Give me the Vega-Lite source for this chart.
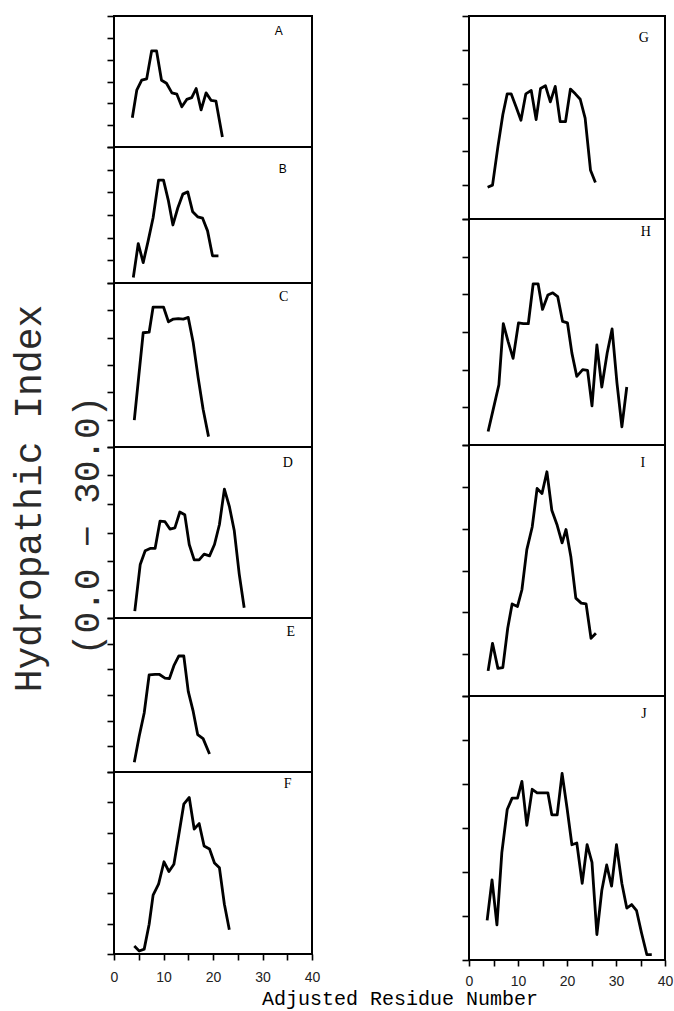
{
  "$schema": "https://vega.github.io/schema/vega-lite/v6.json",
  "background": "white",
  "padding": {"left": 8, "top": 14, "right": 3, "bottom": 2},
  "title": {"text": "Adjusted Residue Number", "orient": "bottom", "anchor": "start", "frame": "bounds", "dx": 253, "dy": -4, "offset": 4, "font": "Liberation Mono", "fontSize": 20, "fontWeight": "normal", "color": "black"},
  "datasets": {
    "labels": [{"panel": "A"}, {"panel": "B"}, {"panel": "C"}, {"panel": "D"}, {"panel": "E"}, {"panel": "F"}, {"panel": "G"}, {"panel": "H"}, {"panel": "I"}, {"panel": "J"}],
    "A": [{"x": 3.7, "y": 6.7}, {"x": 4.6, "y": 13.0}, {"x": 5.6, "y": 15.3}, {"x": 6.6, "y": 15.6}, {"x": 7.6, "y": 22.0}, {"x": 8.6, "y": 22.0}, {"x": 9.6, "y": 15.3}, {"x": 10.6, "y": 14.6}, {"x": 11.7, "y": 12.4}, {"x": 12.7, "y": 12.1}, {"x": 13.7, "y": 9.2}, {"x": 14.7, "y": 10.9}, {"x": 15.7, "y": 11.3}, {"x": 16.6, "y": 13.4}, {"x": 17.6, "y": 8.5}, {"x": 18.6, "y": 12.4}, {"x": 19.6, "y": 10.7}, {"x": 20.6, "y": 10.5}, {"x": 21.9, "y": 2.3}],
    "B": [{"x": 3.9, "y": 1.2}, {"x": 4.9, "y": 8.7}, {"x": 5.9, "y": 4.5}, {"x": 6.9, "y": 9.3}, {"x": 7.9, "y": 14.4}, {"x": 9.0, "y": 22.7}, {"x": 10.0, "y": 22.7}, {"x": 11.0, "y": 18.1}, {"x": 11.9, "y": 12.8}, {"x": 12.9, "y": 16.6}, {"x": 13.9, "y": 19.6}, {"x": 14.9, "y": 20.1}, {"x": 15.9, "y": 15.7}, {"x": 16.9, "y": 14.6}, {"x": 17.9, "y": 14.3}, {"x": 18.9, "y": 11.5}, {"x": 19.9, "y": 6.0}, {"x": 21.1, "y": 6.0}],
    "C": [{"x": 4.1, "y": 4.9}, {"x": 5.0, "y": 12.9}, {"x": 5.9, "y": 20.9}, {"x": 7.1, "y": 21.0}, {"x": 7.9, "y": 25.6}, {"x": 9.0, "y": 25.6}, {"x": 10.0, "y": 25.6}, {"x": 11.0, "y": 22.9}, {"x": 12.0, "y": 23.4}, {"x": 13.0, "y": 23.5}, {"x": 14.0, "y": 23.4}, {"x": 15.0, "y": 23.7}, {"x": 16.0, "y": 19.1}, {"x": 17.0, "y": 12.7}, {"x": 18.0, "y": 6.9}, {"x": 19.1, "y": 1.9}],
    "D": [{"x": 4.2, "y": 1.2}, {"x": 5.3, "y": 9.4}, {"x": 6.3, "y": 11.8}, {"x": 7.3, "y": 12.2}, {"x": 8.3, "y": 12.2}, {"x": 9.3, "y": 17.0}, {"x": 10.3, "y": 16.9}, {"x": 11.3, "y": 15.6}, {"x": 12.3, "y": 15.8}, {"x": 13.3, "y": 18.6}, {"x": 14.3, "y": 18.1}, {"x": 15.2, "y": 12.9}, {"x": 16.2, "y": 10.2}, {"x": 17.2, "y": 10.2}, {"x": 18.2, "y": 11.2}, {"x": 19.3, "y": 10.9}, {"x": 20.3, "y": 12.9}, {"x": 21.3, "y": 16.4}, {"x": 22.3, "y": 22.6}, {"x": 23.3, "y": 19.6}, {"x": 24.3, "y": 15.3}, {"x": 25.3, "y": 7.7}, {"x": 26.3, "y": 1.8}],
    "E": [{"x": 4.1, "y": 1.9}, {"x": 5.1, "y": 7.0}, {"x": 6.1, "y": 11.5}, {"x": 7.1, "y": 18.9}, {"x": 8.3, "y": 19.0}, {"x": 9.2, "y": 19.0}, {"x": 10.3, "y": 18.3}, {"x": 11.2, "y": 18.2}, {"x": 12.1, "y": 20.7}, {"x": 13.1, "y": 22.6}, {"x": 14.1, "y": 22.6}, {"x": 15.0, "y": 15.7}, {"x": 16.0, "y": 11.8}, {"x": 16.9, "y": 7.3}, {"x": 18.0, "y": 6.5}, {"x": 19.3, "y": 3.5}],
    "F": [{"x": 4.1, "y": 1.3}, {"x": 5.1, "y": 0.5}, {"x": 6.1, "y": 0.8}, {"x": 7.1, "y": 4.9}, {"x": 7.9, "y": 9.7}, {"x": 9.0, "y": 11.5}, {"x": 10.1, "y": 15.2}, {"x": 11.1, "y": 13.6}, {"x": 12.1, "y": 14.8}, {"x": 13.1, "y": 19.7}, {"x": 14.1, "y": 24.7}, {"x": 15.2, "y": 25.8}, {"x": 16.2, "y": 20.6}, {"x": 17.2, "y": 21.5}, {"x": 18.2, "y": 17.8}, {"x": 19.3, "y": 17.3}, {"x": 20.3, "y": 15.0}, {"x": 21.3, "y": 14.2}, {"x": 22.3, "y": 8.2}, {"x": 23.3, "y": 4.0}],
    "G": [{"x": 3.8, "y": 4.7}, {"x": 4.8, "y": 5.0}, {"x": 5.9, "y": 10.7}, {"x": 6.9, "y": 15.4}, {"x": 7.8, "y": 18.5}, {"x": 8.6, "y": 18.5}, {"x": 9.6, "y": 16.6}, {"x": 10.6, "y": 14.6}, {"x": 11.6, "y": 18.5}, {"x": 12.7, "y": 19.0}, {"x": 13.7, "y": 14.7}, {"x": 14.6, "y": 19.3}, {"x": 15.6, "y": 19.7}, {"x": 16.6, "y": 17.3}, {"x": 17.6, "y": 19.6}, {"x": 18.6, "y": 14.4}, {"x": 19.7, "y": 14.4}, {"x": 20.7, "y": 19.2}, {"x": 21.7, "y": 18.5}, {"x": 22.7, "y": 17.7}, {"x": 23.7, "y": 14.9}, {"x": 24.8, "y": 7.2}, {"x": 25.8, "y": 5.4}],
    "H": [{"x": 3.9, "y": 1.8}, {"x": 5.0, "y": 4.9}, {"x": 6.1, "y": 8.0}, {"x": 7.0, "y": 16.1}, {"x": 8.0, "y": 13.7}, {"x": 9.0, "y": 11.5}, {"x": 10.1, "y": 16.2}, {"x": 11.1, "y": 16.1}, {"x": 12.1, "y": 16.1}, {"x": 13.1, "y": 21.4}, {"x": 14.1, "y": 21.4}, {"x": 15.0, "y": 18.0}, {"x": 16.1, "y": 19.9}, {"x": 17.1, "y": 20.2}, {"x": 18.1, "y": 19.7}, {"x": 19.1, "y": 16.4}, {"x": 20.1, "y": 16.2}, {"x": 21.0, "y": 12.2}, {"x": 22.0, "y": 9.1}, {"x": 23.2, "y": 10.0}, {"x": 24.2, "y": 9.9}, {"x": 25.1, "y": 5.2}, {"x": 26.1, "y": 13.3}, {"x": 27.1, "y": 7.7}, {"x": 28.2, "y": 12.2}, {"x": 29.2, "y": 15.4}, {"x": 30.2, "y": 8.2}, {"x": 31.2, "y": 2.4}, {"x": 32.2, "y": 7.7}],
    "I": [{"x": 3.9, "y": 3.0}, {"x": 4.8, "y": 6.3}, {"x": 5.9, "y": 3.3}, {"x": 6.9, "y": 3.4}, {"x": 7.9, "y": 8.1}, {"x": 8.8, "y": 11.0}, {"x": 9.9, "y": 10.7}, {"x": 10.8, "y": 12.7}, {"x": 11.8, "y": 17.5}, {"x": 12.9, "y": 20.2}, {"x": 13.9, "y": 24.8}, {"x": 14.9, "y": 24.2}, {"x": 15.9, "y": 26.8}, {"x": 16.9, "y": 22.2}, {"x": 18.0, "y": 20.4}, {"x": 19.0, "y": 18.3}, {"x": 19.8, "y": 19.9}, {"x": 20.8, "y": 16.6}, {"x": 21.8, "y": 11.7}, {"x": 22.9, "y": 11.1}, {"x": 23.9, "y": 11.0}, {"x": 24.9, "y": 6.9}, {"x": 25.9, "y": 7.5}],
    "J": [{"x": 3.7, "y": 4.5}, {"x": 4.7, "y": 9.1}, {"x": 5.7, "y": 4.0}, {"x": 6.7, "y": 12.2}, {"x": 7.8, "y": 17.1}, {"x": 8.8, "y": 18.4}, {"x": 9.9, "y": 18.4}, {"x": 10.8, "y": 20.3}, {"x": 11.8, "y": 15.3}, {"x": 12.9, "y": 19.4}, {"x": 13.9, "y": 19.0}, {"x": 15.0, "y": 19.0}, {"x": 16.1, "y": 19.0}, {"x": 16.9, "y": 16.5}, {"x": 18.0, "y": 16.5}, {"x": 19.0, "y": 21.2}, {"x": 20.0, "y": 17.3}, {"x": 21.0, "y": 13.1}, {"x": 22.0, "y": 13.3}, {"x": 23.1, "y": 8.7}, {"x": 24.1, "y": 13.1}, {"x": 25.1, "y": 11.1}, {"x": 26.1, "y": 2.9}, {"x": 27.1, "y": 7.9}, {"x": 28.1, "y": 10.8}, {"x": 29.1, "y": 8.4}, {"x": 30.1, "y": 13.1}, {"x": 31.2, "y": 8.7}, {"x": 32.2, "y": 5.9}, {"x": 33.2, "y": 6.3}, {"x": 34.2, "y": 5.6}, {"x": 35.2, "y": 3.1}, {"x": 36.3, "y": 0.6}, {"x": 37.3, "y": 0.6}]
  },
  "spacing": 139,
  "hconcat": [
    {
      "spacing": 0,
      "bounds": "flush",
      "vconcat": [
        {
          "width": 198, "height": 131,
          "resolve": {"axis": {"x": "independent", "y": "independent"}},
          "layer": [
            {"data": {"name": "A"}, "mark": {"type": "line", "color": "black", "strokeWidth": 2.8, "strokeJoin": "round"},
             "encoding": {
               "x": {"field": "x", "type": "quantitative", "scale": {"domain": [0, 40], "nice": false}, "axis": null},
               "y": {"field": "y", "type": "quantitative", "scale": {"domain": [0, 30], "nice": false}, "axis": {"values": [0, 5, 10, 15, 20, 25, 30], "labels": false, "title": null}}}},
            {"data": {"name": "labels"}, "transform": [{"filter": "datum.panel === 'A'"}],
             "mark": {"type": "text", "font": "Liberation Sans", "fontSize": 12, "color": "black", "align": "center", "baseline": "middle"},
             "encoding": {"x": {"datum": 33.3, "type": "quantitative", "axis": null}, "y": {"datum": 26.6, "type": "quantitative", "axis": null}, "text": {"field": "panel"}}}
          ]
        },
        {
          "width": 198, "height": 136,
          "resolve": {"axis": {"x": "independent", "y": "independent"}},
          "layer": [
            {"data": {"name": "B"}, "mark": {"type": "line", "color": "black", "strokeWidth": 2.8, "strokeJoin": "round"},
             "encoding": {
               "x": {"field": "x", "type": "quantitative", "scale": {"domain": [0, 40], "nice": false}, "axis": null},
               "y": {"field": "y", "type": "quantitative", "scale": {"domain": [0, 30], "nice": false}, "axis": {"values": [0, 5, 10, 15, 20, 25, 30], "labels": false, "title": null}}}},
            {"data": {"name": "labels"}, "transform": [{"filter": "datum.panel === 'B'"}],
             "mark": {"type": "text", "font": "Liberation Sans", "fontSize": 12, "color": "black", "align": "center", "baseline": "middle"},
             "encoding": {"x": {"datum": 34.1, "type": "quantitative", "axis": null}, "y": {"datum": 25.1, "type": "quantitative", "axis": null}, "text": {"field": "panel"}}}
          ]
        },
        {
          "width": 198, "height": 164,
          "resolve": {"axis": {"x": "independent", "y": "independent"}},
          "layer": [
            {"data": {"name": "C"}, "mark": {"type": "line", "color": "black", "strokeWidth": 2.8, "strokeJoin": "round"},
             "encoding": {
               "x": {"field": "x", "type": "quantitative", "scale": {"domain": [0, 40], "nice": false}, "axis": null},
               "y": {"field": "y", "type": "quantitative", "scale": {"domain": [0, 30], "nice": false}, "axis": {"values": [0, 5, 10, 15, 20, 25, 30], "labels": false, "title": "Hydropathic Index", "titleX": -74, "titleY": 215, "titleAngle": 270, "titleAlign": "center", "titleBaseline": "alphabetic", "titleFont": "Liberation Mono", "titleFontSize": 38, "titleFontWeight": "normal", "titleColor": "#2a2a2a"}}}},
            {"data": {"name": "labels"}, "transform": [{"filter": "datum.panel === 'C'"}],
             "mark": {"type": "text", "font": "Liberation Serif", "fontSize": 14, "color": "black", "align": "center", "baseline": "middle"},
             "encoding": {"x": {"datum": 34.3, "type": "quantitative", "axis": null}, "y": {"datum": 27.4, "type": "quantitative", "axis": null}, "text": {"field": "panel"}}}
          ]
        },
        {
          "width": 198, "height": 171,
          "resolve": {"axis": {"x": "independent", "y": "independent"}},
          "layer": [
            {"data": {"name": "D"}, "mark": {"type": "line", "color": "black", "strokeWidth": 2.8, "strokeJoin": "round"},
             "encoding": {
               "x": {"field": "x", "type": "quantitative", "scale": {"domain": [0, 40], "nice": false}, "axis": null},
               "y": {"field": "y", "type": "quantitative", "scale": {"domain": [0, 30], "nice": false}, "axis": {"values": [0, 5, 10, 15, 20, 25, 30], "labels": false, "title": "(0.0 − 30.0)", "titleX": -16, "titleY": 78, "titleAngle": 270, "titleAlign": "center", "titleBaseline": "alphabetic", "titleFont": "Liberation Mono", "titleFontSize": 36, "titleFontWeight": "normal", "titleColor": "#2a2a2a"}}}},
            {"data": {"name": "labels"}, "transform": [{"filter": "datum.panel === 'D'"}],
             "mark": {"type": "text", "font": "Liberation Serif", "fontSize": 14, "color": "black", "align": "center", "baseline": "middle"},
             "encoding": {"x": {"datum": 35.1, "type": "quantitative", "axis": null}, "y": {"datum": 27.2, "type": "quantitative", "axis": null}, "text": {"field": "panel"}}}
          ]
        },
        {
          "width": 198, "height": 154,
          "resolve": {"axis": {"x": "independent", "y": "independent"}},
          "layer": [
            {"data": {"name": "E"}, "mark": {"type": "line", "color": "black", "strokeWidth": 2.8, "strokeJoin": "round"},
             "encoding": {
               "x": {"field": "x", "type": "quantitative", "scale": {"domain": [0, 40], "nice": false}, "axis": null},
               "y": {"field": "y", "type": "quantitative", "scale": {"domain": [0, 30], "nice": false}, "axis": {"values": [0, 5, 10, 15, 20, 25, 30], "labels": false, "title": null}}}},
            {"data": {"name": "labels"}, "transform": [{"filter": "datum.panel === 'E'"}],
             "mark": {"type": "text", "font": "Liberation Serif", "fontSize": 14, "color": "black", "align": "center", "baseline": "middle"},
             "encoding": {"x": {"datum": 35.7, "type": "quantitative", "axis": null}, "y": {"datum": 27.3, "type": "quantitative", "axis": null}, "text": {"field": "panel"}}}
          ]
        },
        {
          "width": 198, "height": 182,
          "resolve": {"axis": {"x": "independent", "y": "independent"}},
          "layer": [
            {"data": {"name": "F"}, "mark": {"type": "line", "color": "black", "strokeWidth": 2.8, "strokeJoin": "round"},
             "encoding": {
               "x": {"field": "x", "type": "quantitative", "scale": {"domain": [0, 40], "nice": false}, "axis": {"values": [0, 5, 10, 15, 20, 25, 30, 35, 40], "labelExpr": "datum.value % 10 === 0 ? datum.label : ''", "tickSize": 6, "labelPadding": 10, "labelFlush": false, "title": null}},
               "y": {"field": "y", "type": "quantitative", "scale": {"domain": [0, 30], "nice": false}, "axis": {"values": [0, 5, 10, 15, 20, 25, 30], "labels": false, "title": null}}}},
            {"data": {"name": "labels"}, "transform": [{"filter": "datum.panel === 'F'"}],
             "mark": {"type": "text", "font": "Liberation Serif", "fontSize": 14, "color": "black", "align": "center", "baseline": "middle"},
             "encoding": {"x": {"datum": 35.1, "type": "quantitative", "axis": null}, "y": {"datum": 28.0, "type": "quantitative", "axis": null}, "text": {"field": "panel"}}}
          ]
        }
      ]
    },
    {
      "spacing": 0,
      "bounds": "flush",
      "vconcat": [
        {
          "width": 196, "height": 203,
          "resolve": {"axis": {"x": "independent", "y": "independent"}},
          "layer": [
            {"data": {"name": "G"}, "mark": {"type": "line", "color": "black", "strokeWidth": 2.8, "strokeJoin": "round"},
             "encoding": {
               "x": {"field": "x", "type": "quantitative", "scale": {"domain": [0, 40], "nice": false}, "axis": null},
               "y": {"field": "y", "type": "quantitative", "scale": {"domain": [0, 30], "nice": false}, "axis": {"values": [0, 5, 10, 15, 20, 25, 30], "labels": false, "title": null}}}},
            {"data": {"name": "labels"}, "transform": [{"filter": "datum.panel === 'G'"}],
             "mark": {"type": "text", "font": "Liberation Serif", "fontSize": 14, "color": "black", "align": "center", "baseline": "middle"},
             "encoding": {"x": {"datum": 35.7, "type": "quantitative", "axis": null}, "y": {"datum": 26.7, "type": "quantitative", "axis": null}, "text": {"field": "panel"}}}
          ]
        },
        {
          "width": 196, "height": 226,
          "resolve": {"axis": {"x": "independent", "y": "independent"}},
          "layer": [
            {"data": {"name": "H"}, "mark": {"type": "line", "color": "black", "strokeWidth": 2.8, "strokeJoin": "round"},
             "encoding": {
               "x": {"field": "x", "type": "quantitative", "scale": {"domain": [0, 40], "nice": false}, "axis": null},
               "y": {"field": "y", "type": "quantitative", "scale": {"domain": [0, 30], "nice": false}, "axis": {"values": [0, 5, 10, 15, 20, 25, 30], "labels": false, "title": null}}}},
            {"data": {"name": "labels"}, "transform": [{"filter": "datum.panel === 'H'"}],
             "mark": {"type": "text", "font": "Liberation Serif", "fontSize": 14, "color": "black", "align": "center", "baseline": "middle"},
             "encoding": {"x": {"datum": 36.1, "type": "quantitative", "axis": null}, "y": {"datum": 28.3, "type": "quantitative", "axis": null}, "text": {"field": "panel"}}}
          ]
        },
        {
          "width": 196, "height": 251,
          "resolve": {"axis": {"x": "independent", "y": "independent"}},
          "layer": [
            {"data": {"name": "I"}, "mark": {"type": "line", "color": "black", "strokeWidth": 2.8, "strokeJoin": "round"},
             "encoding": {
               "x": {"field": "x", "type": "quantitative", "scale": {"domain": [0, 40], "nice": false}, "axis": null},
               "y": {"field": "y", "type": "quantitative", "scale": {"domain": [0, 30], "nice": false}, "axis": {"values": [0, 5, 10, 15, 20, 25, 30], "labels": false, "title": null}}}},
            {"data": {"name": "labels"}, "transform": [{"filter": "datum.panel === 'I'"}],
             "mark": {"type": "text", "font": "Liberation Serif", "fontSize": 14, "color": "black", "align": "center", "baseline": "middle"},
             "encoding": {"x": {"datum": 35.5, "type": "quantitative", "axis": null}, "y": {"datum": 27.8, "type": "quantitative", "axis": null}, "text": {"field": "panel"}}}
          ]
        },
        {
          "width": 196, "height": 264,
          "resolve": {"axis": {"x": "independent", "y": "independent"}},
          "layer": [
            {"data": {"name": "J"}, "mark": {"type": "line", "color": "black", "strokeWidth": 2.8, "strokeJoin": "round"},
             "encoding": {
               "x": {"field": "x", "type": "quantitative", "scale": {"domain": [0, 40], "nice": false}, "axis": {"values": [0, 5, 10, 15, 20, 25, 30, 35, 40], "labelExpr": "datum.value % 10 === 0 ? datum.label : ''", "tickSize": 6, "labelPadding": 8, "labelFlush": false, "title": null}},
               "y": {"field": "y", "type": "quantitative", "scale": {"domain": [0, 30], "nice": false}, "axis": {"values": [0, 5, 10, 15, 20, 25, 30], "labels": false, "title": null}}}},
            {"data": {"name": "labels"}, "transform": [{"filter": "datum.panel === 'J'"}],
             "mark": {"type": "text", "font": "Liberation Serif", "fontSize": 14, "color": "black", "align": "center", "baseline": "middle"},
             "encoding": {"x": {"datum": 35.7, "type": "quantitative", "axis": null}, "y": {"datum": 28.0, "type": "quantitative", "axis": null}, "text": {"field": "panel"}}}
          ]
        }
      ]
    }
  ],
  "config": {
    "view": {"stroke": "black", "strokeWidth": 2},
    "axis": {"grid": false, "domain": false, "ticks": true, "tickColor": "black", "tickWidth": 1.6, "tickSize": 7, "labelFont": "Liberation Sans", "labelFontSize": 14, "labelColor": "#222222"}
  }
}
